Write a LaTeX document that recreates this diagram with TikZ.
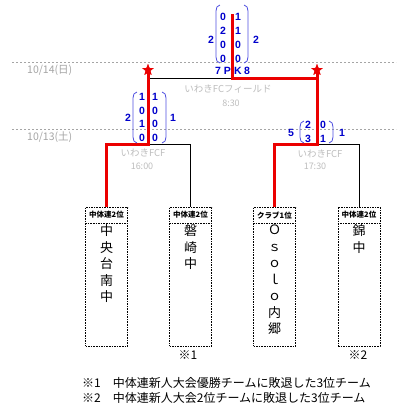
\documentclass[tikz,border=0pt]{standalone}
\usepackage{fontspec}
\setmainfont{Liberation Sans}
\newfontfamily\jp{Noto Sans CJK JP}
\usetikzlibrary{shapes.geometric}
\definecolor{winred}{RGB}{235,0,0}
\definecolor{numblue}{RGB}{0,0,204}
\definecolor{brblue}{RGB}{80,80,225}
\definecolor{dategray}{RGB}{165,165,165}
\definecolor{venuegray}{RGB}{190,190,190}
\newcommand{\bracketpair}[4]{%
  \draw[brk] (#1+4,#3) to[out=180,in=90] (#1,#3+6) -- (#1,#4-6) to[out=-90,in=180] (#1+4,#4);
  \draw[brk] (#2-4,#3) to[out=0,in=90] (#2,#3+6) -- (#2,#4-6) to[out=-90,in=0] (#2-4,#4);}
\begin{document}
\begin{tikzpicture}[x=1pt,y=-1pt,
 win/.style={draw=winred,line width=3pt},
 lose/.style={draw=black,line width=0.8pt},
 teambox/.style={draw,dash pattern=on 1.6pt off 1pt,line width=0.8pt,minimum width=42pt,minimum height=139pt,inner sep=0},
 hdr/.style={font=\jp\bfseries\fontsize{7.5}{8}\selectfont,inner sep=0},
 body/.style={font=\jp\fontsize{13}{16.5}\selectfont,align=center,inner sep=0,anchor=north},
 num/.style={font=\bfseries\fontsize{10.5}{10}\selectfont,text=numblue,inner sep=0},
 brk/.style={draw=brblue,line width=0.8pt},
 datelbl/.style={font=\jp\fontsize{10.5}{10}\selectfont,text=dategray,inner sep=0,anchor=west},
 venue/.style={font=\jp\fontsize{9}{10}\selectfont,text=venuegray,inner sep=0},
 guide/.style={draw=dategray,dash pattern=on 2pt off 2pt,line width=0.6pt},
 winstar/.style={shape=star,star points=5,star point ratio=2.4,fill=winred,inner sep=0,minimum size=12pt},
 note/.style={font=\jp\fontsize{12}{12}\selectfont,inner sep=0}
]
\useasboundingbox[fill=white] (0,0) rectangle (408,407);

% guide lines and dates
\draw[guide] (12,62) -- (396,62);
\draw[guide] (12,129) -- (396,129);
\node[datelbl] (d1) at (27,70) {10/14(日)};
\node[datelbl] (d2) at (27,137) {10/13(土)};

% venues
\node[venue,font=\jp\fontsize{9.5}{10}\selectfont] (v0) at (228,89) {いわきFCフィールド};
\node[venue] (t0) at (231,103) {8:30};
\node[venue,font=\jp\fontsize{9.5}{10}\selectfont] (v1) at (143,153) {いわきFCF};
\node[venue] (t1) at (142,166) {16:00};
\node[venue,font=\jp\fontsize{9.5}{10}\selectfont] (v2) at (320,154) {いわきFCF};
\node[venue] (t2) at (315,166) {17:30};

% team boxes
\node[teambox] (b1) at (106.5,276.5) {};
\node[teambox] (b2) at (190.5,276.5) {};
\node[teambox] (b3) at (274.5,276.5) {};
\node[teambox] (b4) at (359,276.5) {};
\foreach \b in {b1,b2,b3,b4}{
  \draw[dash pattern=on 1.6pt off 1pt,line width=0.8pt] ([yshift=-17pt]\b.north west) -- ([yshift=-17pt]\b.north east);}
\node[hdr] (h1) at ([yshift=-8.5pt]b1.north) {中体連2位};
\node[hdr] (h2) at ([yshift=-8.5pt]b2.north) {中体連2位};
\node[hdr] (h3) at ([yshift=-8.5pt]b3.north) {クラブ1位};
\node[hdr] (h4) at ([yshift=-8.5pt]b4.north) {中体連2位};
\node[body] (n1) at ([yshift=-18pt]b1.north) {中\\央\\台\\南\\中};
\node[body] (n2) at ([yshift=-18pt]b2.north) {磐\\崎\\中};
\node[body] (n3) at ([yshift=-18pt]b3.north) {Ｏ\\ｓ\\ｏ\\ｌ\\ｏ\\内\\郷};
\node[body] (n4) at ([yshift=-18pt]b4.north) {錦\\中};
\node[note] (m1) at (188,355) {※1};
\node[note] (m2) at (358,355) {※2};

% junctions
\coordinate (ftop) at (232,14);
\coordinate (fj) at (232,78);
\coordinate (fl) at (148,78);
\coordinate (s1j) at (148,144);
\coordinate (s1l) at (106.5,144);
\coordinate (s1r) at (190.5,144);
\coordinate (s2j) at (317,144);
\coordinate (s2l) at (274.5,144);
\coordinate (s2r) at (359,144);
\node[winstar] (st1) at (148,70) {};
\node[winstar] (st2) at (317,70) {};

% losing lines
\draw[lose] (fl) -- (fj);
\draw[lose] (s1j) -- (s1r) -- (b2.north);
\draw[lose] (s2j) -- (s2r) -- (b4.north);
% winning lines
\draw[win] (st1.center) -- (s1j) -- (s1l) -- (b1.north);
\draw[win] (st2.center) -- (s2j) -- (s2l) -- (b3.north);
\draw[win] (ftop) -- (fj) -| (s2j);
\node[winstar] at (st1) {};
\node[winstar] at (st2) {};

% final scores
\bracketpair{216}{248}{5}{63}
\foreach \v [count=\i] in {0,2,0,0}{\node[num] at (223,{17+14*(\i-1)}) {\v};}
\foreach \v [count=\i] in {1,1,0,0}{\node[num] at (238,{17+14*(\i-1)}) {\v};}
\node[num] (fs1) at (211,40) {2};
\node[num] (fs2) at (256,40) {2};
\node[num] (pk7) at (218,71) {7};
\node[num] (pkp) at (227.5,71) {P};
\node[num] (pkk) at (238,71) {K};
\node[num] (pk8) at (247,71) {8};

% semi 1 scores
\bracketpair{133}{166}{92}{143}
\foreach \v [count=\i] in {1,0,1,0}{\node[num] at (142,{97+13.5*(\i-1)}) {\v};}
\foreach \v [count=\i] in {1,0,0,0}{\node[num] at (155,{97+13.5*(\i-1)}) {\v};}
\node[num] (a1) at (128,118) {2};
\node[num] (a2) at (173,118) {1};

% semi 2 scores
\bracketpair{300}{333}{121}{143}
\foreach \v [count=\i] in {2,3}{\node[num] at (308,{125+14*(\i-1)}) {\v};}
\foreach \v [count=\i] in {0,1}{\node[num] at (323,{125+14*(\i-1)}) {\v};}
\node[num] (c1) at (291,133) {5};
\node[num] (c2) at (342,133) {1};

% footnotes
\node[note,anchor=west] (fn1) at (82,383) {※1　中体連新人大会優勝チームに敗退した3位チーム};
\node[note,anchor=west] (fn2) at (82,398) {※2　中体連新人大会2位チームに敗退した3位チーム};
\end{tikzpicture}
\end{document}
